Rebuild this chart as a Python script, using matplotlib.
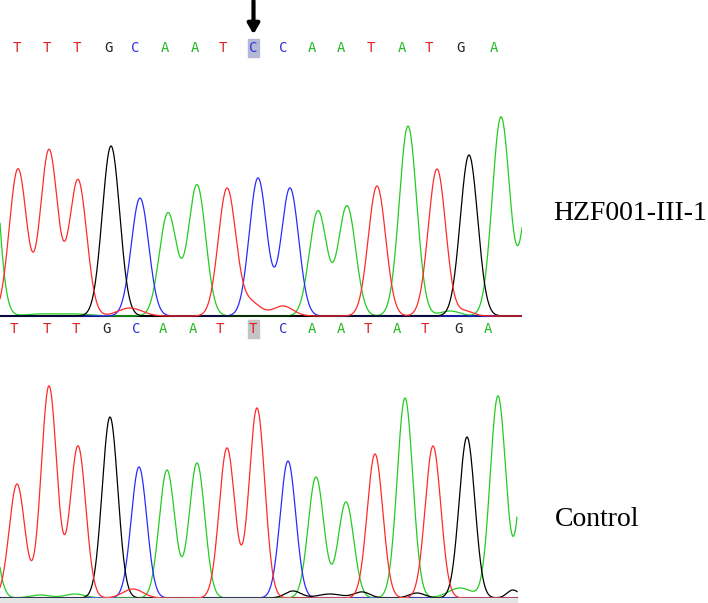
import numpy as np
import matplotlib
matplotlib.use("Agg")
import matplotlib.pyplot as plt

W, H = 708, 603

# base calls (scan position of letter, base)
calls_top = ["T", "T", "T", "G", "C", "A", "A", "T", "C", "C", "A", "A", "T", "A", "T", "G", "A"]
calls_top_x = [17, 47, 77, 108, 135, 165, 195, 223, 253, 283, 312, 341, 371, 402, 429, 460, 494]
calls_bot = ["T", "T", "T", "G", "C", "A", "A", "T", "T", "C", "A", "A", "T", "A", "T", "G", "A"]
calls_bot_x = [14, 47, 76, 106, 136, 163, 193, 220, 253, 283, 312, 341, 368, 397, 425, 458, 488]

# main peaks: position, height, base
top_pos = [-12, 18, 49, 78, 111, 140, 168, 197, 227, 258, 290, 318, 347, 377, 408, 437, 469, 501, 532]
top_h = [240, 147, 166, 136, 170, 118, 103, 131, 127, 138, 128, 105, 110, 130, 190, 147, 161, 199, 150]
top_base = ["A", "T", "T", "T", "G", "C", "A", "A", "T", "C", "C", "A", "A", "T", "A", "T", "G", "A", "A"]

bot_pos = [-12, 17, 49, 78, 110, 139, 167, 197, 227, 257, 288, 316, 346, 375, 405, 433, 467, 498, 528]
bot_h = [100, 114, 212, 152, 181, 131, 128, 135, 150, 190, 137, 121, 96, 144, 200, 152, 161, 202, 190]
bot_base = ["A", "T", "T", "T", "G", "C", "A", "A", "T", "T", "C", "A", "A", "T", "A", "T", "G", "A", "A"]

# small background bumps: position, height, width, base
top_minor_pos = [40, 75, 130, 250, 283, 450, 465]
top_minor_h = [2, 2, 8, 14, 10, 5, 5]
top_minor_w = [15, 15, 12, 10, 10, 10, 8]
top_minor_base = ["A", "A", "T", "T", "T", "A", "T"]

bot_minor_pos = [40, 75, 133, 293, 330, 362, 417, 460, 513]
bot_minor_h = [3, 4, 9, 7, 4, 6, 5, 10, 8]
bot_minor_w = [10, 10, 10, 8, 12, 8, 8, 12, 6]
bot_minor_base = ["A", "A", "T", "G", "G", "G", "G", "A", "G"]

colors = {"A": "#22cc22", "C": "#2a2aff", "G": "#000000", "T": "#ff2a2a"}
text_colors = {"A": "#22bb22", "C": "#3333dd", "G": "#222222", "T": "#e02020"}


def px_axes(fig, left, top, right, bottom):
    return fig.add_axes([left / W, 1 - bottom / H, (right - left) / W, (bottom - top) / H])


def draw_traces(ax, x, sigma, pos, h, bases, mpos, mh, mw, mbase):
    for b in ["A", "C", "G", "T"]:
        y = np.zeros_like(x)
        for p, hh, bb in zip(pos, h, bases):
            if bb == b:
                y += hh * np.exp(-(x - p) ** 2 / (2 * sigma ** 2))
        for p, hh, ww, bb in zip(mpos, mh, mw, mbase):
            if bb == b:
                y += hh * np.exp(-(x - p) ** 2 / (2 * ww ** 2))
        ax.plot(x, y, color=colors[b], lw=0.9, zorder=2)


fig = plt.figure(figsize=(W / 100, H / 100), dpi=100)

# top chromatogram
ax1 = px_axes(fig, 0, 100, 522, 318)
x1 = np.linspace(0, 522, 1500)
draw_traces(ax1, x1, 8.7, top_pos, top_h, top_base, top_minor_pos, top_minor_h, top_minor_w, top_minor_base)
ax1.plot([0, 522], [0, 0], color="black", lw=1.5, zorder=1)
ax1.set_xlim(0, 522)
ax1.set_ylim(-2, 216)
ax1.axis("off")

# bottom chromatogram
ax2 = px_axes(fig, 0, 370, 522, 600)
x2 = np.linspace(0, 517, 1500)
draw_traces(ax2, x2, 7.8, bot_pos, bot_h, bot_base, bot_minor_pos, bot_minor_h, bot_minor_w, bot_minor_base)
ax2.plot([0, 517], [0, 0], color="black", lw=1.5, zorder=1)
ax2.set_xlim(0, 522)
ax2.set_ylim(-2, 228)
ax2.axis("off")

# base call letters
for bx, b in zip(calls_top_x, calls_top):
    ax1.text(bx, 268, b, color=text_colors[b], fontsize=10, family="DejaVu Sans Mono",
             ha="center", va="center", clip_on=False)
for bx, b in zip(calls_bot_x, calls_bot):
    ax2.text(bx, 269, b, color=text_colors[b], fontsize=10, family="DejaVu Sans Mono",
             ha="center", va="center", clip_on=False)

# highlighted calls at the variant site
ax1.add_patch(plt.Rectangle((247.5, 259), 11, 18, color="#b4b8d4", zorder=0, clip_on=False))
ax2.add_patch(plt.Rectangle((247.5, 260), 11, 18, color="#c4c4c4", zorder=0, clip_on=False))

# arrow
ax1.annotate("", xy=(253.5, 279), xytext=(253.5, 318), annotation_clip=False,
             arrowprops=dict(arrowstyle="-|>,head_width=0.35,head_length=0.6", color="black", lw=3))

# gray strip under bottom trace
fig.patches.append(plt.Rectangle((0, 0), 517 / W, 5 / H, transform=fig.transFigure,
                                 color="#e4e4e4", zorder=0))

fig.text(553 / W, 1 - 213 / H, "HZF001-III-1", family="Liberation Serif", fontsize=20,
         ha="left", va="center")
fig.text(555 / W, 1 - 520 / H, "Control", family="Liberation Serif", fontsize=20,
         ha="left", va="center")

fig.savefig("out.png", dpi=100)
